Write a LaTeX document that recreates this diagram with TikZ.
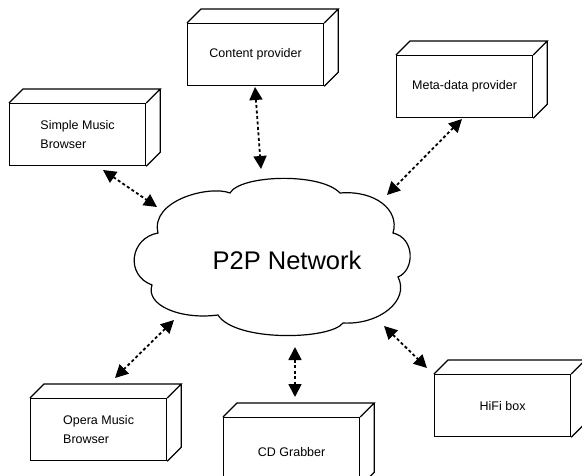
\documentclass[tikz,border=0pt]{standalone}
\usepackage{fontspec}
\setmainfont{Liberation Sans}
\usetikzlibrary{arrows.meta}
\tikzset{
  boxline/.style={line width=1.2pt, line join=miter},
  devbox/.style={boxline, draw, fill=white, minimum width=136pt, minimum height=62pt,
    inner sep=0pt, anchor=north west, align=left, font=\fontsize{12.5}{19}\selectfont},
  link/.style={line width=1.8pt, dash pattern=on 3pt off 2.5pt,
    {Triangle[length=13pt,width=13pt]}-{Triangle[length=13pt,width=13pt]}},
}
\newcommand\depthlines[1]{%
  \draw[boxline] (#1.north west) -- ([shift={(14,-14)}]#1.north west)
    -- ([shift={(14,-14)}]#1.north east) -- (#1.north east)
    ([shift={(14,-14)}]#1.north east) -- ([shift={(14,-14)}]#1.south east)
    -- (#1.south east);}
\begin{document}
\begin{tikzpicture}[x=1pt,y=-1pt]
\clip (0,0) rectangle (582,475);
\fill[white] (0,0) rectangle (582,475);
% cloud
\draw[line width=1.2pt, fill=white]
  (230,193) .. controls (240,175) and (320,172) .. (340,193)
  .. controls (375,190) and (400,210) .. (393,233)
  .. controls (415,238) and (415,270) .. (398,277)
  .. controls (410,300) and (380,325) .. (343,323)
  .. controls (330,340) and (235,342) .. (218,315)
  .. controls (180,320) and (145,305) .. (152,285)
  .. controls (125,275) and (130,238) .. (158,233)
  .. controls (150,200) and (210,185) .. (230,193) -- cycle;
\node[font=\fontsize{25.5}{30}\selectfont] (net) at (287,260) {P2P Network};
% boxes
\node[devbox] (content) at (187,23) {Content provider};
\depthlines{content}
\node[devbox] (simple) at (9,103) {Simple Music\\Browser};
\depthlines{simple}
\node[devbox] (meta) at (396,55) {Meta-data provider};
\depthlines{meta}
\node[devbox] (hifi) at (434,374) {HiFi box};
\depthlines{hifi}
\node[devbox] (opera) at (30,398) {Opera Music\\Browser};
\depthlines{opera}
\node[devbox, minimum height=68pt] (cd) at (223,417) {CD Grabber};
\depthlines{cd}
% connector ends
\coordinate (s1) at (103,170); \coordinate (s2) at (157,207);
\coordinate (c1) at (255,87);  \coordinate (c2) at (261,169);
\coordinate (m1) at (462,119); \coordinate (m2) at (387,195);
\coordinate (o1) at (174,320); \coordinate (o2) at (115,378);
\coordinate (g1) at (295,347); \coordinate (g2) at (295,397);
\coordinate (h1) at (384,326); \coordinate (h2) at (427,368);
\draw[link] (s1) -- (s2);
\draw[link] (c1) -- (c2);
\draw[link] (m1) -- (m2);
\draw[link] (o1) -- (o2);
\draw[link] (g1) -- (g2);
\draw[link] (h1) -- (h2);
\end{tikzpicture}
\end{document}
